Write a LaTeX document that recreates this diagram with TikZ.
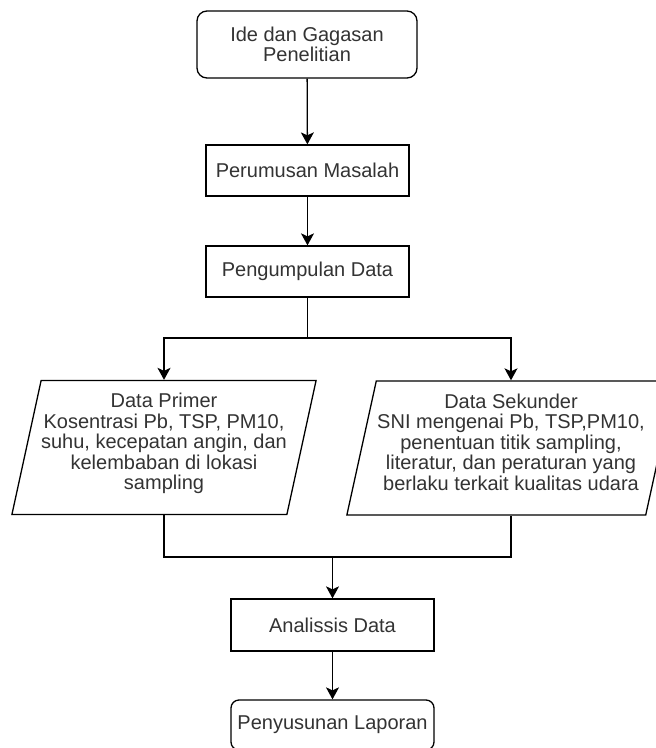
\documentclass[tikz,border=0pt]{standalone}
\usepackage{fontspec}
\setmainfont{Liberation Sans}
\usetikzlibrary{shapes.geometric,arrows.meta}
\definecolor{txt}{HTML}{333333}
\tikzset{
  base/.style={draw=black, line width=1.3pt, text=txt, align=center,
    font=\fontsize{20}{20.5}\selectfont, inner sep=0pt},
  roundbox/.style={base, rounded corners=10pt, minimum width=220pt, minimum height=67pt},
  procbox/.style={base, minimum width=203pt, minimum height=51pt},
  iobox/.style={base, trapezium, trapezium left angle=75, trapezium right angle=105,
    trapezium stretches=true, minimum height=134pt},
  conn/.style={draw=black, line width=1.3pt},
  arr/.style={conn, -{Stealth[width=13pt,length=12pt,inset=3pt]}}
}
\begin{document}
\begin{tikzpicture}[x=1pt,y=-1pt]
\useasboundingbox[fill=white] (0,0) rectangle (656,748);
\node[roundbox] (ide) at (307,44.5) {Ide dan Gagasan\\Penelitian};
\node[procbox] (rumus) at (307.5,170.5) {Perumusan Masalah};
\node[procbox] (kumpul) at (307.5,271.5) {Pengumpulan Data};
\node[iobox, minimum width=304pt] (primer) at (164,447.5)
  {Data Primer\\Kosentrasi Pb, TSP, PM10,\\suhu, kecepatan angin, dan\\kelembaban di lokasi\\sampling\\[-8pt]\mbox{}};
\node[iobox, minimum width=330pt] (sekunder) at (511,448)
  {Data Sekunder\\SNI mengenai Pb, TSP,PM10,\\penentuan titik sampling,\\literatur, dan peraturan yang\\berlaku terkait kualitas udara\\[-8pt]\mbox{}};
\node[procbox, minimum height=52pt] (analisis) at (332.5,625) {Analissis Data};
\node[procbox, rounded corners=8pt, minimum height=50pt] (laporan) at (332.5,725) {Penyusunan Laporan};
\coordinate (split) at (307.5,338);
\coordinate (merge) at (332.5,557);
\draw[arr] (ide) -- (rumus);
\draw[arr] (rumus) -- (kumpul);
\draw[conn] (kumpul.south) -- (split);
\draw[arr] (split) -| (primer.center |- primer.north);
\draw[arr] (split) -| (sekunder.center |- sekunder.north);
\draw[conn] (primer.center |- primer.south) |- (merge) -| (sekunder.center |- sekunder.south);
\draw[arr] (merge) -- (analisis);
\draw[arr] (analisis) -- (laporan);
\end{tikzpicture}
\end{document}
